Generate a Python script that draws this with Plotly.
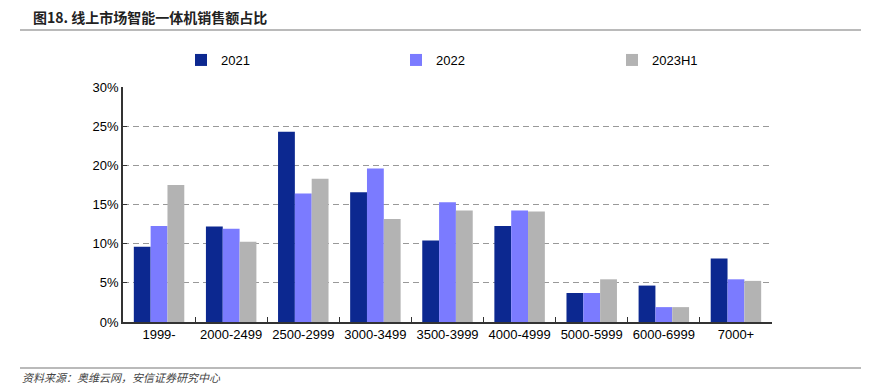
import plotly.graph_objects as go

categories = ["1999-", "2000-2499", "2500-2999", "3000-3499", "3500-3999",
              "4000-4999", "5000-5999", "6000-6999", "7000+"]
s2021 = [9.6, 12.2, 24.3, 16.55, 10.4, 12.25, 3.7, 4.65, 8.1]
s2022 = [12.25, 11.9, 16.4, 19.6, 15.3, 14.25, 3.7, 1.9, 5.45]
s2023h1 = [17.5, 10.25, 18.3, 13.15, 14.25, 14.1, 5.45, 1.9, 5.25]
series_names = ["2021", "2022", "2023H1"]
colors = ["#0C2890", "#7B7BFF", "#B3B3B3"]

# page body adds an 8px offset; work in reference pixels and subtract it
OFF = 8
W, H = 869 - OFF, 392 - OFF
PL, PR, PT, PB = 123, 772, 87, 322          # plot box in reference pixels
L, R, T, B = PL - OFF, W - (PR - OFF), PT - OFF, H - (PB - OFF)
PW, PH = W - L - R, H - T - B


def px_x(x):
    return (x - OFF - L) / PW


def px_y(y):
    return (H - B - (y - OFF)) / PH


legend_x = [181, 396, 612]
legend_keys = ["legend", "legend2", "legend3"]

fig = go.Figure()
for name, vals, c, lk in zip(series_names, [s2021, s2022, s2023h1], colors, legend_keys):
    fig.add_trace(go.Bar(x=categories, y=[v / 100 for v in vals], name=name,
                         marker=dict(color=c, line=dict(width=0)), legend=lk))

legend_common = dict(orientation="h", xanchor="left", yanchor="middle",
                     xref="container", yref="container", font=dict(size=13),
                     itemwidth=30, bgcolor="rgba(0,0,0,0)")
layout_legends = {}
for lk, lx in zip(legend_keys, legend_x):
    layout_legends[lk] = dict(legend_common, x=(lx - OFF) / W, y=(H - (60 - OFF)) / H)

fig.update_layout(
    width=W, height=H,
    margin=dict(l=L, r=R, t=T, b=B, autoexpand=False),
    plot_bgcolor="white", paper_bgcolor="white",
    barmode="group", bargap=0.3, bargroupgap=0,
    font=dict(family="Liberation Sans, Arial, sans-serif", size=13, color="#000"),
    showlegend=True,
    xaxis=dict(showline=True, linecolor="#333", linewidth=1.5, ticks="inside",
               tickson="boundaries", ticklen=5, tickcolor="#333",
               tickfont=dict(size=13), showgrid=False),
    yaxis=dict(range=[0, 0.3], dtick=0.05, tickformat=".0%", showline=True,
               linecolor="#333", linewidth=1.5, ticks="inside", ticklen=4,
               tickcolor="#333", showgrid=True, gridcolor="#999999",
               griddash="6px,4px", gridwidth=1, zeroline=False, tickfont=dict(size=13)),
    shapes=[
        dict(type="line", xref="paper", yref="paper", x0=px_x(20), x1=px_x(869),
             y0=px_y(30), y1=px_y(30), line=dict(color="#777", width=1.2)),
        dict(type="line", xref="paper", yref="paper", x0=px_x(20), x1=px_x(869),
             y0=px_y(368), y1=px_y(368), line=dict(color="#777", width=1.2)),
    ],
    annotations=[
        dict(text="<b>图18. 线上市场智能一体机销售额占比</b>", xref="paper", yref="paper",
             x=px_x(31), y=px_y(17), xanchor="left", yanchor="middle", showarrow=False,
             font=dict(size=14, color="#222",
                       family="Noto Sans CJK SC, Liberation Sans, sans-serif")),
        dict(text="<i>资料来源：奥维云网，安信证券研究中心</i>", xref="paper", yref="paper",
             x=px_x(20), y=px_y(377), xanchor="left", yanchor="middle", showarrow=False,
             font=dict(size=11, color="#444",
                       family="Noto Sans CJK SC, Liberation Sans, sans-serif")),
    ],
    **layout_legends,
)

fig.write_html("out.html")
